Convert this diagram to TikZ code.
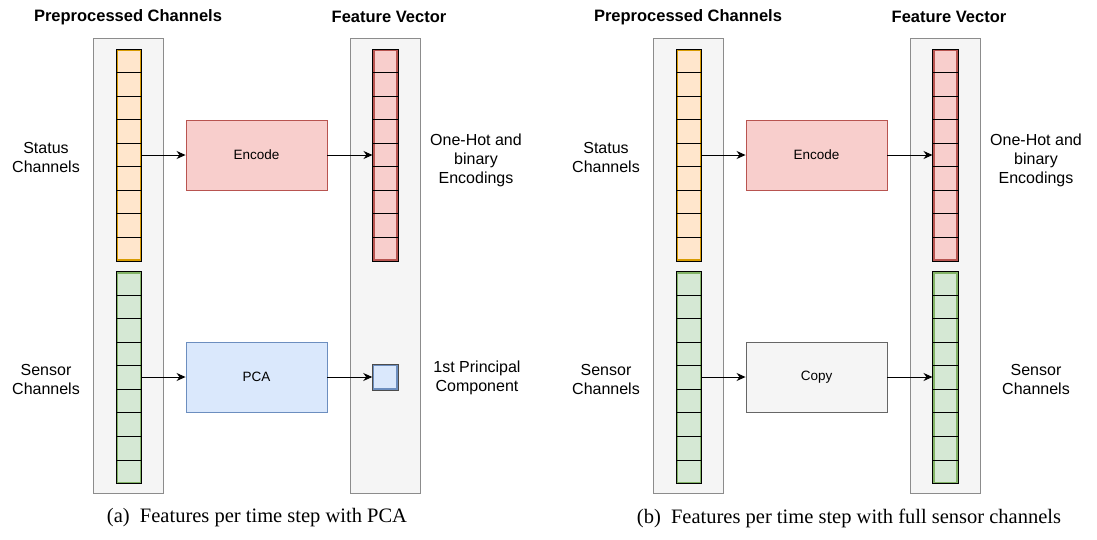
\documentclass[tikz,border=0pt]{standalone}
\usepackage{fontspec}
\setmainfont{Liberation Serif}
\newfontfamily\sansfont{Liberation Sans}
\usetikzlibrary{arrows.meta,calc}

\definecolor{panelfill}{HTML}{F5F5F5}
\definecolor{panelline}{HTML}{8C8C8C}
\definecolor{orangefill}{HTML}{FFE6CC}
\definecolor{orangeline}{HTML}{D79B00}
\definecolor{redfill}{HTML}{F8CECC}
\definecolor{redline}{HTML}{B85450}
\definecolor{greenfill}{HTML}{D5E8D4}
\definecolor{greenline}{HTML}{82B366}
\definecolor{bluefill}{HTML}{DAE8FC}
\definecolor{blueline}{HTML}{6C8EBF}
\definecolor{grayline}{HTML}{666666}

\tikzset{
  panel/.style={draw=panelline, fill=panelfill, line width=0.9pt,
    minimum width=70pt, minimum height=455pt, inner sep=0pt},
  column/.style={line width=2pt, minimum width=23.5pt, minimum height=210pt, inner sep=0pt},
  unitcell/.style={line width=2pt, minimum width=24pt, minimum height=24pt, inner sep=0pt},
  opbox/.style={line width=0.9pt, minimum width=141pt, minimum height=70pt,
    inner sep=0pt, font=\sansfont\fontsize{13.5}{16}\selectfont},
  sidelabel/.style={align=center, font=\sansfont\fontsize{16}{19}\selectfont},
  header/.style={font=\sansfont\bfseries\fontsize{16.5}{18}\selectfont},
  caption/.style={font=\fontsize{20.5}{22}\selectfont},
  flow/.style={line width=0.9pt, -{Stealth[length=9pt,width=8pt]}},
}

% black cell grid over a coloured column node
\newcommand{\cellgrid}[2]{%
  \draw[black, line width=0.9pt] (#1.north west) rectangle (#1.south east);
  \foreach \i in {1,...,#2}
    \draw[black, line width=0.9pt]
      ($(#1.north west)!{\i/(#2+1)}!(#1.south west)$) --
      ($(#1.north east)!{\i/(#2+1)}!(#1.south east)$);
}

\begin{document}
\begin{tikzpicture}[x=1pt, y=-1pt]
\useasboundingbox (0,0) rectangle (1097,539);

% ---------- (a) features with PCA ----------
\node[header] (ha) at (128,17) {Preprocessed Channels};
\node[header] (hb) at (389,17) {Feature Vector};
\node[panel] (pa) at (128,265.5) {};
\node[panel] (fa) at (385,265.5) {};

\node[column, fill=orangefill, draw=orangeline] (sa) at (128.75,155) {};
\cellgrid{sa}{8}
\node[column, fill=greenfill, draw=greenline] (ga) at (128.75,377.5) {};
\cellgrid{ga}{8}
\node[column, fill=redfill, draw=redline] (ra) at (385.25,155) {};
\cellgrid{ra}{8}
\node[unitcell, fill=bluefill, draw=blueline] (ua) at (385.25,377) {};
\draw[black!70, line width=0.9pt] (ua.north west) rectangle (ua.south east);

\node[opbox, fill=redfill, draw=redline] (ea) at (256.5,155) {Encode};
\node[opbox, fill=bluefill, draw=blueline] (pca) at (256.5,377) {PCA};

\draw[flow] (sa.east) -- (ea.west);
\draw[flow] (ea.east) -- (ra.west);
\draw[flow] (ga.east |- pca.west) -- (pca.west);
\draw[flow] (pca.east) -- (ua.west);

\node[sidelabel] (la1) at (46,157) {Status\\Channels};
\node[sidelabel] (la2) at (46,379) {Sensor\\Channels};
\node[sidelabel] (la3) at (476,160) {One-Hot and\\binary\\Encodings};
\node[sidelabel] (la4) at (477,378) {1st Principal\\Component};

\node[caption] (ca) at (257,518) {(a)\enspace Features per time step with PCA};

% ---------- (b) features with full sensor channels ----------
\node[header] (hc) at (688,17) {Preprocessed Channels};
\node[header] (hd) at (949,17) {Feature Vector};
\node[panel] (pb) at (688,265.5) {};
\node[panel] (fb) at (945,265.5) {};

\node[column, fill=orangefill, draw=orangeline] (sb) at (688.75,155) {};
\cellgrid{sb}{8}
\node[column, fill=greenfill, draw=greenline] (gb) at (688.75,377.5) {};
\cellgrid{gb}{8}
\node[column, fill=redfill, draw=redline] (rb) at (945.25,155) {};
\cellgrid{rb}{8}
\node[column, fill=greenfill, draw=greenline] (gc) at (945.25,377.5) {};
\cellgrid{gc}{8}

\node[opbox, fill=redfill, draw=redline] (eb) at (816.5,155) {Encode};
\node[opbox, fill=panelfill, draw=grayline] (cp) at (816.5,377) {Copy};

\draw[flow] (sb.east) -- (eb.west);
\draw[flow] (eb.east) -- (rb.west);
\draw[flow] (gb.east |- cp.west) -- (cp.west);
\draw[flow] (cp.east) -- (gc.west |- cp.east);

\node[sidelabel] (lb1) at (606,157) {Status\\Channels};
\node[sidelabel] (lb2) at (606,379) {Sensor\\Channels};
\node[sidelabel] (lb3) at (1036,160) {One-Hot and\\binary\\Encodings};
\node[sidelabel] (lb4) at (1036,379) {Sensor\\Channels};

\node[caption] (cb) at (849,518) {(b)\enspace Features per time step with full sensor channels};
\end{tikzpicture}
\end{document}
